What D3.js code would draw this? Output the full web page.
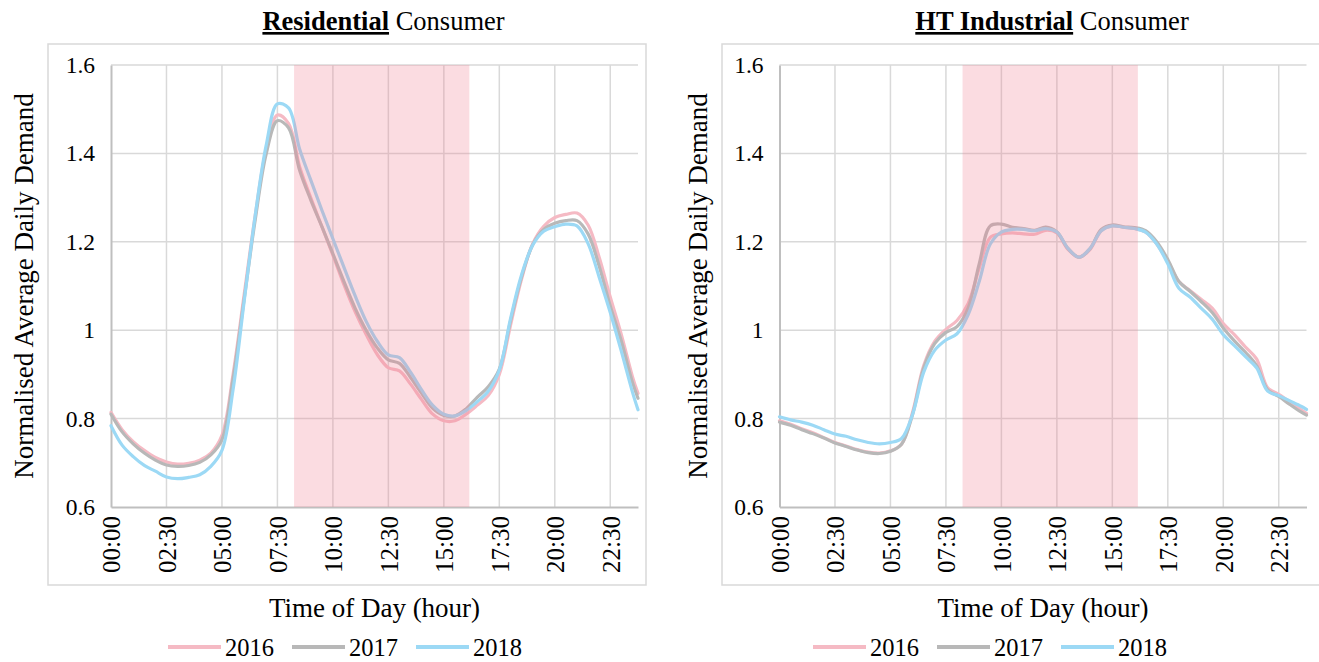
<!DOCTYPE html>
<html>
<head>
<meta charset="utf-8">
<script src="https://cdn.jsdelivr.net/npm/d3@7"></script>
<style>
  html, body { margin: 0; padding: 0; background: #fff; }
</style>
</head>
<body>
<svg id="chart" width="1319" height="662"></svg>
<script>
// Time of day in minutes: half-hourly readings plus the final 23:45 reading
const times = d3.range(0, 1440, 30).concat([1425]);

const years = ["2016", "2017", "2018"];
const yearColors = ["#f5bac4", "#b8b8b8", "#9cd9f5"];

// Residential consumer, normalised average daily demand
const res2016 = [0.814,0.775,0.748,0.728,0.712,0.702,0.697,0.699,0.706,0.722,
  0.762,0.900,1.080,1.260,1.410,1.487,1.468,1.370,1.300,1.235,
  1.170,1.103,1.042,0.990,0.945,0.915,0.908,0.878,0.843,0.810,
  0.795,0.795,0.810,0.830,0.852,0.900,1.010,1.115,1.195,1.235,
  1.255,1.262,1.265,1.238,1.165,1.075,0.990,0.895,0.857];
const res2017 = [0.810,0.770,0.743,0.722,0.706,0.695,0.692,0.694,0.701,0.718,
  0.752,0.890,1.070,1.250,1.400,1.474,1.458,1.362,1.295,1.235,
  1.173,1.110,1.050,1.000,0.960,0.933,0.925,0.893,0.857,0.823,
  0.807,0.806,0.822,0.848,0.872,0.912,1.020,1.120,1.193,1.228,
  1.242,1.248,1.248,1.218,1.145,1.055,0.975,0.882,0.846];
const res2018 = [0.784,0.740,0.714,0.694,0.681,0.668,0.664,0.667,0.673,0.692,
  0.728,0.865,1.065,1.260,1.420,1.512,1.503,1.410,1.340,1.272,
  1.207,1.142,1.078,1.020,0.975,0.944,0.938,0.905,0.865,0.830,
  0.810,0.806,0.818,0.838,0.862,0.910,1.025,1.125,1.192,1.224,
  1.234,1.240,1.236,1.196,1.120,1.040,0.952,0.860,0.820];

// HT industrial consumer, normalised average daily demand
const ind2016 = [0.795,0.787,0.777,0.768,0.757,0.746,0.738,0.730,0.724,0.722,
  0.727,0.742,0.815,0.920,0.975,1.002,1.022,1.060,1.140,1.210,
  1.218,1.220,1.218,1.217,1.226,1.220,1.183,1.165,1.183,1.225,
  1.236,1.233,1.230,1.222,1.195,1.155,1.110,1.090,1.070,1.050,
  1.015,0.990,0.962,0.935,0.870,0.855,0.838,0.820,0.812];
const ind2017 = [0.792,0.785,0.775,0.766,0.756,0.745,0.737,0.729,0.723,0.721,
  0.726,0.742,0.810,0.915,0.970,0.995,1.008,1.050,1.150,1.236,
  1.240,1.233,1.230,1.226,1.233,1.222,1.185,1.165,1.185,1.228,
  1.238,1.234,1.232,1.225,1.200,1.160,1.110,1.088,1.065,1.040,
  1.005,0.976,0.950,0.920,0.865,0.850,0.832,0.815,0.808];
const ind2018 = [0.804,0.797,0.792,0.785,0.775,0.765,0.760,0.752,0.746,0.743,
  0.746,0.755,0.810,0.905,0.955,0.978,0.992,1.035,1.110,1.195,
  1.222,1.228,1.228,1.225,1.230,1.222,1.185,1.165,1.185,1.225,
  1.236,1.233,1.230,1.222,1.195,1.150,1.095,1.075,1.050,1.025,
  0.990,0.965,0.940,0.915,0.862,0.852,0.840,0.828,0.821];

// Axis ticks
const xTickLabels = ["00:00","02:30","05:00","07:30","10:00","12:30","15:00","17:30","20:00","22:30"];
const yTicks = [0.6, 0.8, 1.0, 1.2, 1.4, 1.6];

// Peak tariff window (shaded), in minutes
const peakWindow = [495, 969];

const toMin = s => { const [h, m] = s.split(":").map(Number); return h * 60 + m; };

const panels = [
  { bold: "Residential", rest: " Consumer", series: [res2016, res2017, res2018],
    frameX: 48, plotX: 111, legendX: 168, yTitleX: 33 },
  { bold: "HT Industrial", rest: " Consumer", series: [ind2016, ind2017, ind2018],
    frameX: 722, plotX: 779.5, legendX: 813, yTitleX: 707 }
];

const FONT = "'Liberation Serif', 'Tinos', 'Times New Roman', 'DejaVu Serif', serif";
const svg = d3.select("#chart").attr("font-family", FONT);
const plotW = 527, plotTop = 65, plotBottom = 507;
const fs = { title: 26.5, yTick: 23.5, xTick: 25, axisTitle: 27, legend: 24.5 };

panels.forEach(p => {
  const g = svg.append("g");
  const x = d3.scaleLinear().domain([0, 1425]).range([p.plotX, p.plotX + plotW]);
  const y = d3.scaleLinear().domain([0.6, 1.6]).range([plotBottom, plotTop]);

  // chart area border
  g.append("rect")
    .attr("x", p.frameX).attr("y", 44).attr("width", 598).attr("height", 541)
    .attr("fill", "none").attr("stroke", "#d9d9d9").attr("stroke-width", 1.5);

  // title
  const title = g.append("text")
    .attr("x", p.plotX + plotW / 2 + 9).attr("y", 30)
    .attr("text-anchor", "middle").attr("font-family", FONT).attr("font-size", fs.title);
  title.append("tspan").text(p.bold).attr("font-weight", "bold").attr("text-decoration", "underline");
  title.append("tspan").text(p.rest);

  // horizontal gridlines
  g.append("g").selectAll("line").data(yTicks.filter(v => v > 0.6)).join("line")
    .attr("x1", p.plotX).attr("x2", p.plotX + plotW)
    .attr("y1", d => y(d)).attr("y2", d => y(d))
    .attr("stroke", "#d9d9d9").attr("stroke-width", 1.5);

  // vertical gridlines at labelled times
  g.append("g").selectAll("line").data(xTickLabels.slice(1)).join("line")
    .attr("x1", d => x(toMin(d))).attr("x2", d => x(toMin(d)))
    .attr("y1", plotTop).attr("y2", plotBottom)
    .attr("stroke", "#d9d9d9").attr("stroke-width", 1.5);

  // y axis
  const yAxis = d3.axisLeft(y).tickValues(yTicks)
    .tickFormat(d => d === 1 ? "1" : d3.format(".1f")(d)).tickSize(0).tickPadding(16);
  const ya = g.append("g").attr("transform", `translate(${p.plotX},0)`).call(yAxis)
    .attr("font-family", FONT).attr("font-size", fs.yTick);
  ya.select(".domain").attr("stroke", "#bfbfbf").attr("stroke-width", 2);
  ya.selectAll("text").attr("fill", "#000");

  // x axis
  const xAxis = d3.axisBottom(x).tickValues(xTickLabels.map(toMin))
    .tickFormat((d, i) => xTickLabels[i]).tickSize(0);
  const xa = g.append("g").attr("transform", `translate(0,${plotBottom})`).call(xAxis)
    .attr("font-family", FONT).attr("font-size", fs.xTick);
  xa.select(".domain").attr("stroke", "#bfbfbf").attr("stroke-width", 2);
  xa.selectAll("text").attr("fill", "#000")
    .attr("transform", "rotate(-90)")
    .attr("text-anchor", "end").attr("x", -9).attr("y", 0).attr("dy", "0.35em");

  // series lines
  const line = d3.line().x((d, i) => x(times[i])).y(d => y(d)).curve(d3.curveCatmullRom.alpha(0.5));
  p.series.forEach((s, k) => {
    g.append("path").datum(s).attr("d", line)
      .attr("fill", "none").attr("stroke", yearColors[k]).attr("stroke-width", 3.2)
      .attr("stroke-linejoin", "round").attr("stroke-linecap", "round");
  });

  // peak window shading
  g.append("rect")
    .attr("x", x(peakWindow[0])).attr("y", plotTop)
    .attr("width", x(peakWindow[1]) - x(peakWindow[0])).attr("height", plotBottom - plotTop)
    .attr("fill", "rgb(240,128,146)").attr("fill-opacity", 0.28);

  // axis titles
  g.append("text")
    .attr("x", p.plotX + plotW / 2).attr("y", 617)
    .attr("text-anchor", "middle").attr("font-family", FONT).attr("font-size", fs.axisTitle)
    .text("Time of Day (hour)");
  g.append("text")
    .attr("transform", `translate(${p.yTitleX},${(plotTop + plotBottom) / 2}) rotate(-90)`)
    .attr("text-anchor", "middle").attr("font-family", FONT).attr("font-size", fs.axisTitle)
    .text("Normalised Average Daily Demand");

  // legend
  let lx = p.legendX;
  years.forEach((yr, k) => {
    g.append("line").attr("x1", lx).attr("x2", lx + 53).attr("y1", 647).attr("y2", 647)
      .attr("stroke", yearColors[k]).attr("stroke-width", 4);
    const t = g.append("text").attr("x", lx + 57).attr("y", 656)
      .attr("font-family", FONT).attr("font-size", fs.legend).text(yr);
    lx += 57 + t.node().getComputedTextLength() + 18;
  });
});
</script>
</body>
</html>
